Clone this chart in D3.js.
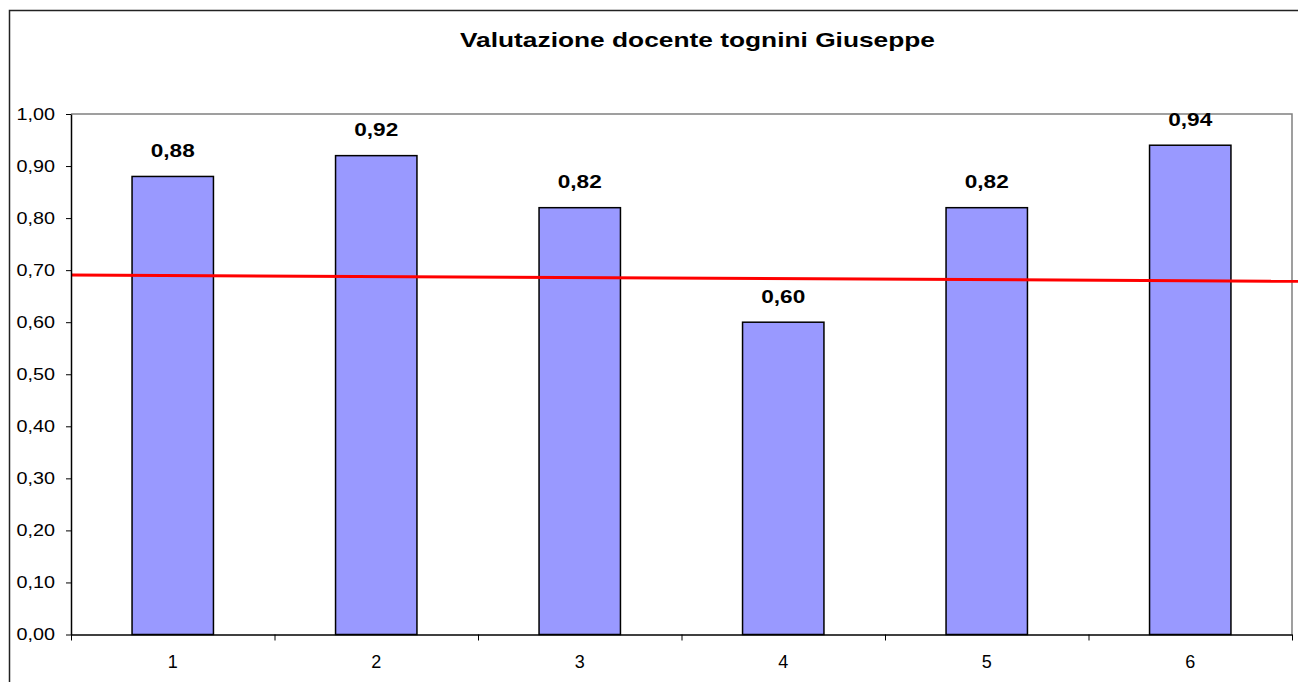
<!DOCTYPE html>
<html>
<head>
<meta charset="utf-8">
<script src="https://cdn.jsdelivr.net/npm/d3@7"></script>
<style>
  body { margin: 0; background: #fff; }
  svg { display: block; font-family: "Liberation Sans", Arial, sans-serif; }
</style>
</head>
<body>
<svg id="chart" width="1298" height="682"></svg>
<script>
// chart data
var categories = ['1', '2', '3', '4', '5', '6'];
var values = [0.88, 0.92, 0.82, 0.60, 0.82, 0.94];
var yTicks = [0, 0.1, 0.2, 0.3, 0.4, 0.5, 0.6, 0.7, 0.8, 0.9, 1.0];
// reference line, x in category units (0.5 = left edge of plot)
var refLine = [{ x: 0.5, y: 0.6907 }, { x: 6.53, y: 0.6786 }];
var title = 'Valutazione docente tognini Giuseppe';

(function() {
  var svg = d3.select('#chart'),
      pLeft = 71, pRight = 1292, pTop = 114, pBottom = 634.5;

  var fmt = function(v) { return d3.format('.2f')(v).replace('.', ','); };

  // outer chart frame, runs off the right and bottom of the picture
  svg.append('rect')
    .attr('x', 9.5).attr('y', 10.5)
    .attr('width', 1300).attr('height', 700)
    .attr('fill', 'none').attr('stroke', '#222').attr('stroke-width', 1.5);

  // the source text is rendered wide, so glyphs are stretched to fit
  svg.append('text')
    .attr('x', (460 + 935) / 2).attr('y', 47)
    .attr('text-anchor', 'middle')
    .attr('font-size', 20.5).attr('font-weight', 'bold')
    .attr('textLength', 475).attr('lengthAdjust', 'spacingAndGlyphs')
    .text(title);

  var x = d3.scaleLinear().domain([0.5, 6.5]).range([pLeft, pRight]);
  var y = d3.scaleLinear().domain([0, 1]).range([pBottom, pTop]);
  var band = (pRight - pLeft) / categories.length,
      barW = band / 2.5;

  // plot area border (top and right in gray)
  svg.append('path')
    .attr('d', 'M' + pLeft + ',' + pTop + 'H' + pRight + 'V' + pBottom)
    .attr('fill', 'none').attr('stroke', '#808080').attr('stroke-width', 1.5);

  // bars
  svg.selectAll('rect.bar')
    .data(values)
    .enter().append('rect')
    .attr('class', 'bar')
    .attr('x', function(d, i) { return x(i + 1) - barW / 2; })
    .attr('y', function(d) { return y(d); })
    .attr('width', barW)
    .attr('height', function(d) { return y(0) - y(d); })
    .attr('fill', '#9999ff')
    .attr('stroke', '#000').attr('stroke-width', 1.5);

  // value labels
  svg.selectAll('text.val')
    .data(values)
    .enter().append('text')
    .attr('class', 'val')
    .attr('x', function(d, i) { return x(i + 1); })
    .attr('y', function(d) { return y(d) - 19.5; })
    .attr('text-anchor', 'middle')
    .attr('font-size', 18.5).attr('font-weight', 'bold')
    .attr('textLength', 44).attr('lengthAdjust', 'spacingAndGlyphs')
    .text(fmt);

  // red reference line
  svg.append('path')
    .datum(refLine)
    .attr('d', d3.line().x(function(d) { return x(d.x); }).y(function(d) { return y(d.y); }))
    .attr('fill', 'none').attr('stroke', '#ff0000').attr('stroke-width', 3);

  // y axis
  var yAxis = svg.append('g')
    .attr('transform', 'translate(' + pLeft + ',0)')
    .call(d3.axisLeft(y).tickValues(yTicks).tickFormat(fmt).tickSize(5).tickSizeOuter(0).tickPadding(11));
  yAxis.select('.domain').attr('stroke', '#000').attr('stroke-width', 1.5);
  yAxis.selectAll('line').attr('stroke', '#000');
  yAxis.selectAll('text').attr('font-size', 16.5).attr('fill', '#000')
    .attr('font-family', '"Liberation Sans", Arial, sans-serif')
    .attr('textLength', 38.5).attr('lengthAdjust', 'spacingAndGlyphs');

  // x axis: ticks on category boundaries, labels centred
  var xAxis = svg.append('g')
    .attr('transform', 'translate(0,' + pBottom + ')')
    .call(d3.axisBottom(x).tickValues(d3.range(0.5, 7, 1)).tickFormat('').tickSize(6).tickSizeOuter(0));
  xAxis.select('.domain').attr('stroke', '#000').attr('stroke-width', 1.5);
  xAxis.selectAll('line').attr('stroke', '#000');

  svg.selectAll('text.cat')
    .data(categories)
    .enter().append('text')
    .attr('class', 'cat')
    .attr('x', function(d, i) { return x(i + 1); })
    .attr('y', pBottom + 33)
    .attr('text-anchor', 'middle')
    .attr('font-size', 18)
    .text(function(d) { return d; });
})();
</script>
</body>
</html>
